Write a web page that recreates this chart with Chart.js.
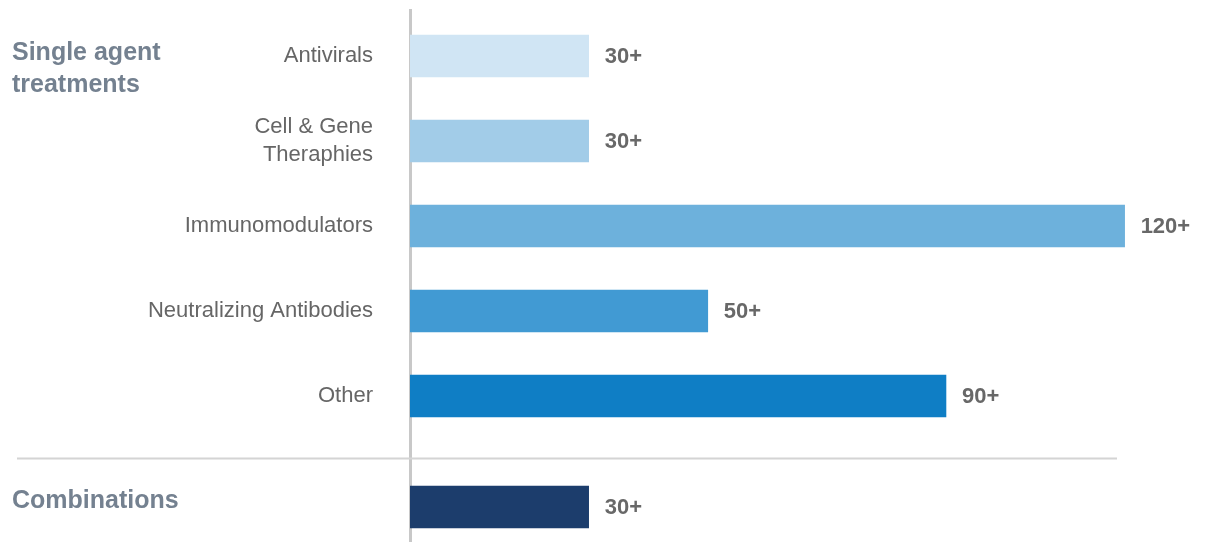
<!DOCTYPE html>
<html>
<head>
<meta charset="utf-8">
<script src="https://cdn.jsdelivr.net/npm/chart.js"></script>
<style>
  html, body { margin: 0; padding: 0; background: #ffffff; }
  #wrap { width: 1208px; height: 542px; }
</style>
</head>
<body>
<div id="wrap"><canvas id="pipeline-chart" width="1208" height="542"></canvas></div>
<script>
// ===== DATA =====
const categories = ['Antivirals', ['Cell & Gene', 'Theraphies'], 'Immunomodulators', 'Neutralizing Antibodies', 'Other', ''];
const counts = [30, 30, 120, 50, 90, 30];
const valueLabels = ['30+', '30+', '120+', '50+', '90+', '30+'];
const barColors = ['#d0e5f4', '#a2cce8', '#6db1dc', '#419ad3', '#0f7ec5', '#1c3d6c'];
const groupLabels = [['Single agent', 'treatments'], ['Combinations']];

// extra space between the single agent group and the combinations row
const GROUP_GAP = 0.306;
const rowPos = categories.map((c, i) => i < 5 ? i : i + GROUP_GAP);

// ===== PLUGINS =====
const overlayPlugin = {
    id: 'overlay',
    beforeDatasetsDraw(chart) {
        const ctx = chart.ctx;
        const y = chart.scales.y;
        // separator between groups
        const sepY = Math.round(y.getPixelForValue(4.73)) + 0.5;
        ctx.save();
        ctx.strokeStyle = '#d4d4d4';
        ctx.lineWidth = 2;
        ctx.beginPath();
        ctx.moveTo(17, sepY);
        ctx.lineTo(1117, sepY);
        ctx.stroke();
        ctx.restore();
    },
    afterDatasetsDraw(chart) {
        const ctx = chart.ctx;
        const y = chart.scales.y;
        const meta = chart.getDatasetMeta(0);
        ctx.save();
        // value labels
        ctx.font = 'bold 22px "Liberation Sans", Arial, sans-serif';
        ctx.fillStyle = '#686868';
        ctx.textAlign = 'left';
        ctx.textBaseline = 'middle';
        meta.data.forEach((bar, i) => {
            ctx.fillText(valueLabels[i], bar.x + 16, bar.y + 1);
        });
        // group labels
        ctx.font = 'bold 25px "Liberation Sans", Arial, sans-serif';
        ctx.fillStyle = '#748190';
        const first = y.getPixelForValue(rowPos[0]);
        groupLabels[0].forEach((line, k) => {
            ctx.fillText(line, 12, first - 3 + k * 32);
        });
        const comb = y.getPixelForValue(rowPos[5]);
        ctx.fillText(groupLabels[1][0], 12, comb - 6);
        ctx.restore();
    }
};

// ===== CHART =====
const ctx = document.getElementById('pipeline-chart').getContext('2d');
const chart = new Chart(ctx, {
    type: 'bar',
    data: {
        datasets: [{
            data: counts.map((v, i) => ({ x: v, y: rowPos[i] })),
            backgroundColor: barColors,
            borderWidth: 0,
            barThickness: 42
        }]
    },
    options: {
        indexAxis: 'y',
        responsive: false,
        animation: false,
        layout: { autoPadding: false, padding: { top: 10, right: 0, bottom: 0, left: 0 } },
        plugins: {
            legend: { display: false },
            tooltip: { enabled: false }
        },
        scales: {
            x: {
                type: 'linear',
                display: false,
                min: 0,
                max: 134
            },
            y: {
                type: 'linear',
                reverse: true,
                offset: false,
                min: -0.541,
                max: 5.718,
                afterFit: (scale) => {
                    scale.width = 410;
                    scale.paddingTop = 0;
                    scale.paddingBottom = 0;
                },
                afterBuildTicks: (scale) => {
                    scale.ticks = rowPos.map(v => ({ value: v }));
                },
                grid: { display: false, drawTicks: false, offset: false },
                border: { display: true, color: '#c8c8c8', width: 3 },
                ticks: {
                    padding: 37,
                    color: '#666666',
                    font: { family: '"Liberation Sans", Arial, sans-serif', size: 22, lineHeight: 1.25 },
                    autoSkip: false,
                    callback: (value, index) => categories[index]
                }
            }
        }
    },
    plugins: [overlayPlugin]
});
</script>
</body>
</html>
